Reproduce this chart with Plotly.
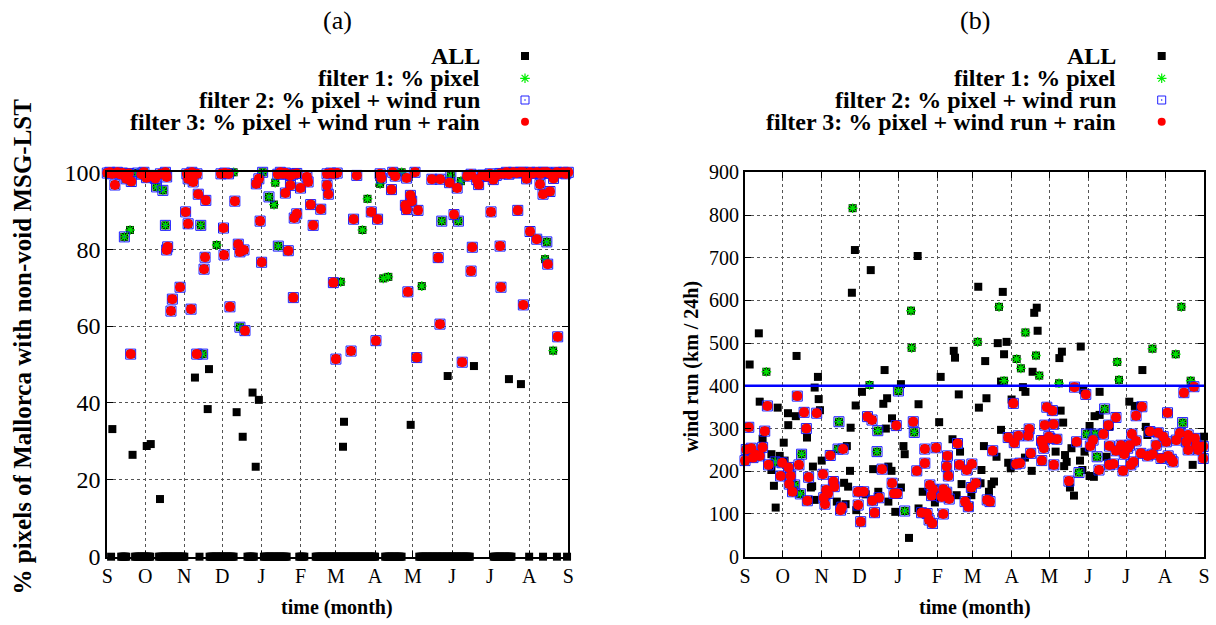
import plotly.graph_objects as go

# ---------------- data ----------------
series_names = ["ALL", "filter 1: % pixel", "filter 2: % pixel + wind run",
                "filter 3: % pixel + wind run + rain"]
month_days = [0, 30, 61, 91, 122, 153, 181, 212, 242, 273, 303, 334, 365]
month_labels = ["S", "O", "N", "D", "J", "F", "M", "A", "M", "J", "J", "A", "S"]
wind_threshold = 400

# panel (a): (day since 1 Sep, % pixels, highest filter passed: 0=ALL only .. 3=filter 3)
a_points = [
    (0, 99.8, 3), (2, 100, 3), (4, 99.6, 3), (6, 96.7, 3), (8, 100, 3), (10, 99.5, 3),
    (12, 99.8, 3), (15, 98.3, 3), (17, 99.7, 3), (19, 97.6, 3), (24, 99.8, 2), (27, 99.5, 3),
    (29, 100, 3), (31, 98.6, 3), (33, 99.2, 3), (36, 99, 3), (38, 98.4, 3), (42, 99.6, 3),
    (46, 100, 3), (47, 98.8, 3), (39, 96.2, 2), (44, 95.3, 2),
    (63, 99.6, 3), (65, 98.8, 3), (67, 100, 3), (71, 99.6, 3), (64, 98.3, 3), (68, 97.5, 3),
    (72, 94.3, 3), (78, 92.7, 3), (62, 89.7, 3), (64, 86.6, 3),
    (46, 86.2, 2), (74, 86.2, 2), (18, 85, 1), (13.5, 83.2, 2),
    (92, 85.5, 3), (90, 99.6, 3), (93, 99.8, 3), (96, 99.6, 3), (100, 100, 1), (101, 92.5, 3),
    (118, 97, 3), (120, 98.3, 3), (121, 87.3, 3), (123, 100, 2), (128, 93.6, 2), (132, 91.6, 1),
    (133, 97.3, 1),
    (135, 99.5, 3), (137, 100, 3), (139, 99.6, 3), (141, 99.8, 3), (143, 99.5, 3), (145, 99.2, 3),
    (147, 99.5, 3), (150, 99.7, 3),
    (141, 94.6, 3), (145, 96.6, 3), (153, 95.9, 3), (150, 89.2, 3), (148, 88.1, 3), (161, 91.6, 3),
    (169, 90.4, 3), (163, 86.2, 3), (158, 98.8, 3), (159, 97.5, 3),
    (174, 99.6, 3), (177, 99.8, 3), (179, 99.6, 3), (174, 96.6, 3), (175, 94.3, 3), (182, 99.8, 3),
    (197.5, 99.2, 3), (216, 99.6, 3), (217, 98.5, 3), (226, 100, 3), (228, 99, 3), (233, 100, 1),
    (216, 97, 1), (237, 98.5, 3), (243.6, 100, 3),
    (225, 95.5, 3), (206, 93.1, 1), (240, 94, 3), (241, 92.5, 3), (236, 91.4, 3), (237, 90.3, 3),
    (246, 90.1, 3), (209, 89.7, 3), (195, 87.8, 3), (214, 87.8, 3), (202, 85, 1),
    (257, 98.2, 3), (263.5, 98.2, 3), (272, 99, 2), (271, 97.3, 3), (280, 97.7, 1), (277, 95.9, 3),
    (285, 99, 3), (288, 99.5, 3), (292.5, 98.1, 3), (294, 96.8, 3), (297, 99.3, 3), (300.4, 98.9, 3),
    (303, 99.6, 3), (305.6, 98.1, 3), (308, 99.2, 3), (311, 99.7, 3), (313.5, 99.6, 3), (316, 100, 3),
    (318, 99.5, 3), (321.5, 100, 3), (324, 99.8, 3), (327, 100, 3), (329.4, 100, 3), (332, 98.3, 3),
    (334.7, 100, 3), (337, 99.7, 3), (340, 100, 3), (343, 99.6, 3), (345, 100, 3), (347.9, 100, 3),
    (350, 99.7, 3), (353.3, 98.4, 3), (355.8, 100, 3), (358, 99.8, 3), (361, 100, 3), (363, 99.6, 3),
    (365, 100, 3),
    (303.8, 89.7, 3), (325, 90.1, 3), (342.6, 96.9, 3), (345, 94.3, 3), (350.5, 95, 3),
    (274.5, 89, 3), (264.8, 87.3, 2), (278, 87.3, 2),
    (334.7, 84.6, 3), (340, 82.6, 3), (348, 81.9, 2),
    (47.8, 80.6, 3), (47, 79.8, 3), (86.6, 81.1, 1), (103.7, 81.3, 3), (105, 79.3, 3), (108.2, 79.8, 3),
    (135.4, 80.8, 2), (143.3, 79.6, 3),
    (77.4, 77.9, 3), (76.6, 74.8, 3), (92.4, 78.5, 3), (122.2, 76.6, 3), (57.6, 70.1, 3), (51.5, 67, 3),
    (50.4, 63.9, 3), (66.3, 64.4, 3), (97.1, 65, 3), (147.3, 67.4, 3),
    (179, 71.3, 3), (184.8, 71.5, 1), (218.5, 72.4, 1), (222.5, 72.8, 1), (249, 70.4, 1), (238, 68.9, 3),
    (262, 77.8, 3), (289, 80.5, 3), (311, 80.8, 3), (288, 74.3, 3), (311.7, 70.1, 3), (329.4, 65.5, 3),
    (346.6, 77.4, 1), (348.7, 76.1, 3), (356.6, 57.2, 3), (353, 53.6, 1),
    (18.5, 52.7, 3), (70.8, 52.7, 3), (75.5, 52.7, 2), (105, 59.7, 2), (109, 58.8, 3), (181, 51.4, 3),
    (193, 53.5, 3), (212.7, 56.2, 3), (245, 51.8, 3), (263.4, 60.5, 3), (281, 50.6, 3),
    (4, 33.2, 0), (20, 26.5, 0), (31.2, 28.8, 0), (34.4, 29.3, 0), (41.7, 15, 0), (69.4, 46.6, 0),
    (80.5, 48.8, 0), (79.5, 38.4, 0), (102.4, 37.6, 0), (107.2, 31.2, 0), (115, 42.7, 0), (120, 40.8, 0),
    (117.5, 23.4, 0), (187.4, 35.1, 0), (186.6, 28.6, 0), (240.2, 34.3, 0), (269.5, 47, 0),
    (290.3, 49.6, 0), (318, 46.2, 0), (327.5, 44.9, 0),
]
# panel (a): runs of consecutive days with 0 % valid pixels (first day, last day)
a_zero_runs = [(3, 3), (11, 15), (22, 34), (41, 61), (73, 73), (81, 100), (111, 116), (124, 142),
               (152, 156), (165, 212), (220, 233), (247, 287), (306, 320), (334, 334), (345, 345),
               (356, 356), (364, 364)]

# panel (b): (day since 1 Sep, wind run km/24h, highest filter passed)
b_points = [
    (85.6, 816, 1), (87.4, 718, 0), (137.3, 704, 0), (100, 671, 0), (85, 618, 0), (185.5, 632, 0),
    (205, 620, 0), (11, 523, 0), (132, 576, 1), (202, 585, 1), (232, 583, 0), (230, 571, 0),
    (347, 585, 1), (232.7, 529, 0), (223, 525, 1), (185, 503, 1), (201, 500, 0), (208, 503, 0),
    (267, 492, 0), (132.5, 489, 1), (41, 470, 0), (166, 482, 0), (167, 466, 0), (206, 474, 0),
    (216, 463, 1), (231.4, 471, 1), (252, 480, 0), (250, 465, 0), (324, 487, 1), (342.5, 474, 1),
    (191, 458, 0), (296, 456, 1),
    (3.7, 450, 0), (17, 433, 1), (111, 437, 0), (58, 421, 0), (99, 402, 1), (55.4, 396, 0),
    (93, 386, 0), (122, 388, 2), (41.6, 376, 3), (58.6, 369, 0), (11.7, 363, 0), (17.8, 353, 3),
    (26, 349, 0), (113, 371, 0), (110, 358, 0), (88, 354, 0), (34.2, 336, 0), (40.4, 329, 0),
    (47, 338, 3), (57, 336, 3), (59.6, 343, 0), (97.4, 328, 3), (101, 320, 3), (116.9, 324, 0),
    (74.7, 316, 2), (34.4, 308, 0), (48.8, 300, 3), (3, 303, 3), (15.7, 294, 3), (84, 302, 0),
    (112, 300, 0), (105.6, 295, 2), (49.3, 279, 0), (14, 276, 0), (120.3, 307, 3), (30.8, 267, 0),
    (81, 259, 0), (74, 252, 2), (78, 252, 3),
    (1, 251, 3), (5, 254, 3), (9, 238, 3), (6.4, 232, 3), (0, 225, 3), (11.7, 236, 3), (14, 256, 3),
    (45, 240, 2), (21, 240, 0), (27.6, 236, 0), (67.8, 237, 3), (105, 246, 2), (24, 222, 2),
    (31.5, 225, 0), (18.7, 215, 3), (29.6, 220, 3), (34.6, 209, 3), (42.9, 215, 3), (61, 225, 0),
    (54, 211, 0), (21, 203, 0), (83.5, 201, 0), (101.9, 205, 0), (109, 205, 3), (114, 211, 0),
    (116.5, 201, 0), (28.3, 189, 3), (36.3, 189, 3), (50.6, 186, 3), (62, 193, 3), (35.2, 170, 3),
    (37.8, 152, 3), (39.5, 168, 2), (23, 166, 0), (70.3, 176, 3), (71, 164, 3), (64.6, 156, 3),
    (66, 148, 3), (52.4, 162, 0), (53.4, 165, 0), (78.8, 173, 0), (82, 164, 0), (44, 147, 2),
    (49.6, 131, 3), (55.4, 133, 0), (62.6, 138, 3), (63.6, 123, 3), (73, 129, 0), (80, 123, 0),
    (76, 109, 3), (77, 116, 3), (88.5, 109, 0), (89.9, 152, 3), (94.4, 152, 3), (96, 146, 0),
    (90, 121, 3), (101.3, 131, 3), (106.6, 138, 3), (106, 152, 0), (114, 129, 0), (117, 172, 3),
    (118.5, 148, 3), (24.4, 115, 0), (103, 103, 3), (92, 82, 3), (119.5, 105, 0),
    (219.4, 441, 1), (228.7, 433, 0), (234, 424, 1), (155.6, 421, 0), (206, 412, 1), (203.6, 410, 0),
    (124, 404, 0), (221, 397, 0), (223, 386, 0), (170, 380, 0), (192, 371, 0), (212, 368, 0),
    (213.4, 359, 3), (138, 357, 0), (186, 349, 0), (240, 350, 3), (133.8, 316, 3), (154.4, 315, 0),
    (134.6, 291, 2), (238.4, 308, 3), (203.6, 297, 0), (226, 299, 3), (217.3, 283, 3), (225.2, 283, 3),
    (209.3, 279, 3), (214.1, 267, 3), (235.8, 272, 3), (237.6, 254, 3), (241.6, 281, 3), (165, 275, 0),
    (169, 265, 3), (126, 259, 0), (127, 240, 0), (143, 252, 3), (152, 255, 3), (190, 259, 0),
    (197, 248, 3), (171, 246, 0), (161, 236, 3), (200, 234, 0), (143, 219, 3), (136.6, 201, 3),
    (160.4, 211, 3), (161.7, 189, 3), (170.6, 215, 3), (176.4, 203, 3), (180.4, 217, 3), (188, 203, 0),
    (209.3, 220, 0), (211.3, 207, 0), (228, 201, 0), (215.6, 217, 3), (218.7, 219, 3), (236, 225, 3),
    (222.6, 232, 0), (227.2, 242, 3), (121, 148, 3), (124, 162, 0), (141.3, 152, 0), (147, 168, 3),
    (149.5, 158, 3), (148.3, 143, 3), (151, 127, 0), (157.7, 158, 3), (156.4, 140, 3), (160.4, 151, 3),
    (162.4, 135, 3), (172.2, 170, 0), (168.3, 144, 0), (180, 162, 3), (183.5, 172, 3), (180, 144, 0),
    (187.3, 172, 0), (196, 170, 0), (198, 176, 0), (194, 152, 0), (192.6, 133, 3), (194.8, 129, 3),
    (175, 129, 3), (177.6, 117, 3), (127, 107, 2), (138, 113, 0), (140.4, 103, 3), (144.8, 101, 3),
    (146.4, 86, 3), (149, 78, 3), (157.7, 100, 3), (130.4, 44, 0),
    (316, 437, 0), (297.4, 414, 1), (249.7, 406, 1), (354.4, 412, 1), (262, 397, 3), (357, 398, 3),
    (269, 390, 0), (271, 380, 3), (282, 386, 0), (349, 384, 3), (305.6, 363, 0), (310, 353, 0),
    (315.6, 351, 3), (311, 330, 3), (286, 346, 2), (244.4, 342, 3), (251, 342, 0), (336, 337, 3),
    (278, 329, 0), (282, 332, 0), (295, 326, 3), (348, 314, 2), (253, 314, 0), (245.4, 310, 3),
    (289, 308, 3), (274, 306, 0), (289.6, 304, 0), (318.7, 304, 0), (271.7, 287, 2), (278.4, 287, 2),
    (285, 287, 3), (307.6, 287, 3), (322, 293, 3), (328.6, 290, 3), (332.6, 281, 3), (345.8, 289, 3),
    (352.4, 285, 3), (357.8, 277, 3), (365, 281, 0), (311, 271, 3), (305.8, 261, 3), (327, 261, 3),
    (335, 269, 3), (343, 273, 3), (351, 269, 3), (359, 261, 3), (364.4, 258, 3), (242.5, 277, 3),
    (248, 275, 3), (236.7, 265, 3), (247, 246, 0), (263.7, 269, 3), (276.8, 273, 3), (274.6, 259, 3),
    (259.6, 254, 0), (270, 246, 0), (289.8, 259, 3), (299, 261, 3), (295, 248, 3), (304.3, 254, 3),
    (301.6, 240, 3), (314.8, 242, 3), (320.2, 236, 3), (324.2, 240, 3), (330.8, 230, 3), (336.5, 236, 3),
    (339, 228, 3), (340.4, 222, 3), (352.4, 250, 3), (360.4, 250, 3), (364.4, 230, 3), (254.5, 238, 0),
    (255.8, 222, 0), (253.8, 212, 0), (266.4, 225, 0), (245.6, 215, 3), (280, 234, 2), (287.5, 234, 0),
    (289.8, 215, 3), (293, 217, 3), (306.8, 215, 3), (308.9, 222, 3), (281.5, 203, 3), (300.6, 201, 3),
    (356, 215, 0), (268.3, 203, 0), (265.6, 197, 2), (274, 189, 0), (277.4, 187, 0), (257.6, 177, 3),
    (258.4, 162, 0), (261.6, 143, 0), (320, 285, 0),
]

# ---------------- build ----------------
a_all = [(d, 0.0, 0) for (s, e) in a_zero_runs for d in range(s, e + 1)] + a_points

SERIF = "Liberation Serif"
styles = [
    dict(symbol="square", size=8, color="black", line=dict(width=0)),
    dict(symbol="asterisk-open", size=8, color="#00dd00", line=dict(color="#00dd00", width=1.4)),
    dict(symbol="square-open-dot", size=10, color="#1a1aff", line=dict(color="#1a1aff", width=1)),
    dict(symbol="circle", size=10, color="#ff0000", line=dict(width=0)),
]
legend_styles = [
    dict(symbol="square", size=8, color="black", line=dict(width=0)),
    dict(symbol="asterisk-open", size=8, color="#00ee00", line=dict(color="#00ee00", width=1.2)),
    dict(symbol="square-open-dot", size=8, color="#2020ff", line=dict(color="#2020ff", width=1)),
    dict(symbol="circle", size=8, color="#ff0000", line=dict(width=0)),
]

fig = go.Figure()
for pts, xa, ya in [(a_all, "x", "y"), (b_points, "x2", "y2")]:
    for k in range(4):
        sel = [p for p in pts if p[2] >= k]
        fig.add_trace(go.Scatter(
            x=[p[0] for p in sel], y=[p[1] for p in sel], mode="markers",
            marker=styles[k], xaxis=xa, yaxis=ya, cliponaxis=False,
            showlegend=False, name=series_names[k]))

W, H = 1216, 625
def px(x):
    return x / W
def py(y):
    return 1 - y / H

# legend symbols on an invisible overlay axis
legend_rows = [56, 78.3, 100, 121.7]
for k in range(4):
    fig.add_trace(go.Scatter(
        x=[px(525), px(1161.7)], y=[py(legend_rows[k])] * 2, mode="markers",
        marker=legend_styles[k], xaxis="x3", yaxis="y3", cliponaxis=False,
        showlegend=False, hoverinfo="skip"))

ann = []
for k in range(4):
    for xr in (481.7, 1118.3):
        ann.append(dict(x=px(xr), y=py(legend_rows[k]), xref="paper", yref="paper",
                        text="<b>%s</b>" % series_names[k], showarrow=False,
                        xanchor="right", yanchor="middle",
                        font=dict(family=SERIF, size=24, color="black")))
for t, xc in (("(a)", 337), ("(b)", 975)):
    ann.append(dict(x=px(xc), y=py(21), xref="paper", yref="paper", text=t, showarrow=False,
                    xanchor="center", yanchor="middle",
                    font=dict(family=SERIF, size=26, color="black")))
    ann.append(dict(x=px(xc), y=py(607), xref="paper", yref="paper",
                    text="<b>time (month)</b>", showarrow=False,
                    xanchor="center", yanchor="middle",
                    font=dict(family=SERIF, size=20, color="black")))
ann.append(dict(x=px(21.5), y=py(347), xref="paper", yref="paper",
                text="<b>% pixels of Mallorca with non-void MSG-LST</b>", showarrow=False,
                textangle=-90, xanchor="center", yanchor="middle",
                font=dict(family=SERIF, size=25, color="black")))
ann.append(dict(x=px(691), y=py(367), xref="paper", yref="paper",
                text="<b>wind run (km / 24h)</b>", showarrow=False,
                textangle=-90, xanchor="center", yanchor="middle",
                font=dict(family=SERIF, size=20, color="black")))

common = dict(showline=True, linewidth=2, linecolor="black", mirror="ticks",
              ticks="inside", ticklen=6, tickwidth=1, tickcolor="black",
              showgrid=True, gridcolor="#555555", griddash="dot", gridwidth=1,
              zeroline=False, automargin=False)
xfont = dict(family=SERIF, size=20, color="black")
xdom_a = [px(107.3), px(568.3)]
xdom_b = [px(745), px(1204)]
ydom = [py(556.7), py(172.3)]

fig.update_layout(
    width=W, height=H, margin=dict(l=0, r=0, t=0, b=0, pad=0), autosize=False,
    paper_bgcolor="white", plot_bgcolor="rgba(0,0,0,0)",
    xaxis=dict(domain=xdom_a, range=[0, 365], tickvals=month_days, ticktext=month_labels,
               anchor="y", tickfont=xfont, **common),
    yaxis=dict(domain=ydom, range=[0, 100], tickvals=[0, 20, 40, 60, 80, 100], anchor="x",
               tickfont=dict(family=SERIF, size=24, color="black"), **common),
    xaxis2=dict(domain=xdom_b, range=[0, 365], tickvals=month_days, ticktext=month_labels,
                anchor="y2", tickfont=xfont, **common),
    yaxis2=dict(domain=ydom, range=[0, 900], tickvals=list(range(0, 901, 100)), anchor="x2",
                tickfont=xfont, **common),
    xaxis3=dict(domain=[0, 1], range=[0, 1], visible=False, anchor="y3", fixedrange=True,
                automargin=False),
    yaxis3=dict(domain=[0, 1], range=[0, 1], visible=False, anchor="x3", fixedrange=True,
                automargin=False),
    annotations=ann,
    shapes=[dict(type="line", xref="x2 domain", yref="y2", x0=0, x1=1,
                 y0=wind_threshold, y1=wind_threshold, line=dict(color="#0000ff", width=2.5))],
)

fig.write_html("out.html")
